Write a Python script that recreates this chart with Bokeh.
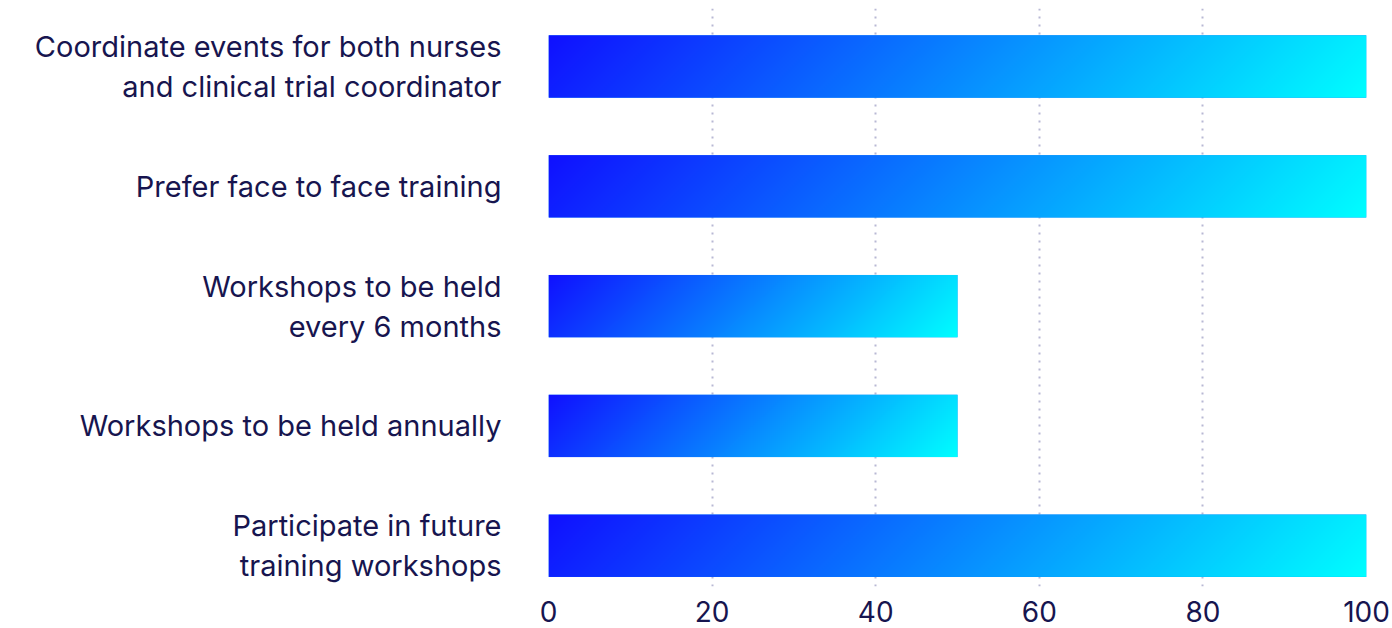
import numpy as np
from bokeh.plotting import figure
from bokeh.models import FixedTicker, Range1d
from bokeh.embed import file_html
from bokeh.resources import INLINE

# ---- data ----
categories = [
    "Coordinate events for both nurses\nand clinical trial coordinator",
    "Prefer face to face training",
    "Workshops to be held\nevery 6 months",
    "Workshops to be held annually",
    "Participate in future\ntraining workshops",
]
values = [100, 100, 50, 50, 100]
x_ticks = [0, 20, 40, 60, 80, 100]

# ---- style ----
TEXT = "#17154f"
FONT = "Inter"
C0 = np.array([16, 16, 255], dtype=float)
C1 = np.array([0, 255, 255], dtype=float)
BAR_H = 0.52

n = len(categories)
ypos = [n - 1 - i for i in range(n)]

W, H = 1392, 628
p = figure(width=W, height=H, x_range=Range1d(0, 100), y_range=Range1d(-0.34, n - 1 + 0.484),
           output_backend="svg", toolbar_location=None,
           min_border_left=548, min_border_right=26, min_border_top=8, min_border_bottom=42)
p.outline_line_color = None
p.background_fill_color = "white"

# base bars (covered by gradient)
p.hbar(y=ypos, right=values, left=0, height=BAR_H, fill_color="#0a88ff", line_color=None)

# gradient fill per bar (diagonal, pixel-space 45 deg)
px_per_x = 818 / 100.0
px_per_y = 119.75
for yc, v in zip(ypos, values):
    wpx = v * px_per_x
    hpx = BAR_H * px_per_y
    nx = int(round(wpx / 2))
    ny = int(round(hpx / 2))
    u = (np.arange(nx) + 0.5) / nx
    r = (np.arange(ny) + 0.5) / ny
    vdown = 1 - r  # row 0 is bottom
    t = (u[None, :] * wpx + vdown[:, None] * hpx) / (wpx + hpx)
    rgb = C0[None, None, :] + (C1 - C0)[None, None, :] * t[:, :, None]
    img = np.empty((ny, nx), dtype=np.uint32)
    view = img.view(dtype=np.uint8).reshape((ny, nx, 4))
    view[:, :, 0] = rgb[:, :, 0].astype(np.uint8)
    view[:, :, 1] = rgb[:, :, 1].astype(np.uint8)
    view[:, :, 2] = rgb[:, :, 2].astype(np.uint8)
    view[:, :, 3] = 255
    p.image_rgba(image=[img], x=0, y=yc - BAR_H / 2, dw=v, dh=BAR_H)

# axes
p.yaxis.ticker = FixedTicker(ticks=ypos)
p.yaxis.major_label_overrides = {y: c for y, c in zip(ypos, categories)}
p.yaxis.major_label_text_font = FONT
p.yaxis.major_label_text_font_size = "29px"
p.yaxis.major_label_text_color = TEXT
p.yaxis.major_label_text_line_height = 1.14
p.yaxis.major_label_standoff = 41
p.yaxis.axis_line_color = None
p.yaxis.major_tick_line_color = None
p.yaxis.minor_tick_line_color = None

p.xaxis.ticker = FixedTicker(ticks=x_ticks)
p.xaxis.major_label_text_font = FONT
p.xaxis.major_label_text_font_size = "28px"
p.xaxis.major_label_text_color = TEXT
p.xaxis.major_label_standoff = 8
p.xaxis.axis_line_color = None
p.xaxis.major_tick_line_color = None
p.xaxis.minor_tick_line_color = None

p.xgrid.ticker = FixedTicker(ticks=x_ticks)
p.xgrid.grid_line_color = "#b8b8d4"
p.xgrid.grid_line_dash = "2 6"
p.xgrid.grid_line_width = 2
p.ygrid.grid_line_color = None

open("out.html", "w").write(file_html(p, INLINE))
